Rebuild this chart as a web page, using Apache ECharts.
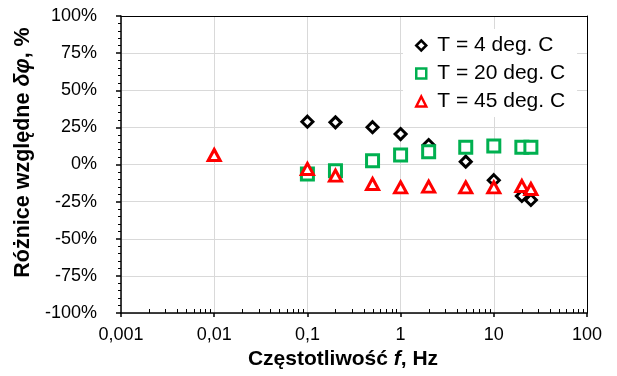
<!DOCTYPE html>
<html>
<head>
<meta charset="UTF-8">
<title>Różnice względne</title>
<script src="https://cdn.jsdelivr.net/npm/echarts@6/dist/echarts.min.js"></script>
<style>
html, body { margin: 0; padding: 0; background: #fff; }
#main { width: 617px; height: 376px; }
</style>
</head>
<body>
<div id="main"></div>
<script>
// dane (f w Hz, różnice w %)
var freq = [0.1, 0.2, 0.5, 1, 2, 5, 10, 20, 25];
var t4 = [28.8, 28.4, 25.1, 20.5, 13.1, 1.9, -10.6, -21.2, -23.9];
var t20 = [-6.4, -4.2, 2.6, 6.4, 8.6, 11.6, 12.5, 11.6, 11.6];
var freq45 = [0.01, 0.1, 0.2, 0.5, 1, 2, 5, 10, 20, 25];
var t45 = [6.4, -3.0, -7.5, -13.1, -15.4, -14.9, -15.4, -15.4, -14.5, -16.5];
var seriesNames = ['T = 4 deg. C', 'T = 20 deg. C', 'T = 45 deg. C'];
var xTickLabels = ['0,001', '0,01', '0,1', '1', '10', '100'];

var FONT = '"Liberation Sans", Arial, sans-serif';

function pairs(xs, ys) {
  return xs.map(function (x, i) { return [x, ys[i]]; });
}

var chart = echarts.init(document.getElementById('main'));

var option = {
  animation: false,
  backgroundColor: '#fff',
  textStyle: { fontFamily: FONT, color: '#000' },
  grid: { left: 121, right: 30, top: 16, bottom: 63 },
  legend: {
    orient: 'vertical',
    left: 403,
    top: 29,
    padding: [6, 12, 5, 12],
    itemGap: 7,
    itemWidth: 10,
    itemHeight: 10,
    backgroundColor: '#fff',
    itemStyle: { borderWidth: 2.5, opacity: 1 },
    textStyle: { fontFamily: FONT, fontSize: 21, color: '#000', padding: [0, 0, 0, 6] },
    data: seriesNames
  },
  xAxis: [{
    type: 'log',
    logBase: 10,
    min: 0.001,
    max: 100,
    splitNumber: 5,
    name: 'Częstotliwość {i|f}, Hz',
    nameLocation: 'middle',
    nameGap: 35,
    nameTextStyle: {
      fontFamily: FONT, fontSize: 21, fontWeight: 'bold', color: '#000',
      padding: [0, 22, 0, 0],
      rich: { i: { fontFamily: FONT, fontSize: 21, fontWeight: 'bold', fontStyle: 'italic', color: '#000' } }
    },
    axisLine: { onZero: false, lineStyle: { color: '#000', width: 1.5 } },
    axisTick: { length: 4, lineStyle: { color: '#000', width: 1.5 } },
    axisLabel: {
      margin: 13, fontSize: 18, color: '#000', fontFamily: FONT,
      formatter: function (v) {
        var k = Math.round(Math.log10(v)) + 3;
        return xTickLabels[k] || '';
      }
    },
    splitLine: { show: true, lineStyle: { color: '#d9d9d9', width: 1 } }
  }, {
    type: 'log', logBase: 10, min: 0.001, max: 100, position: 'top',
    axisLine: { onZero: false, lineStyle: { color: '#000', width: 1 } },
    axisTick: { show: false }, axisLabel: { show: false }, splitLine: { show: false }
  }],
  yAxis: [{
    type: 'value',
    min: -100,
    max: 100,
    interval: 25,
    name: 'Różnice względne {i|δφ}, %',
    nameLocation: 'middle',
    nameGap: 82,
    nameRotate: 90,
    nameTextStyle: {
      fontFamily: FONT, fontSize: 21.5, fontWeight: 'bold', color: '#000',
      padding: [0, 0, 0, 24],
      rich: { i: { fontFamily: FONT, fontSize: 21.5, fontWeight: 'bold', fontStyle: 'italic', color: '#000' } }
    },
    axisLine: { show: true, onZero: false, lineStyle: { color: '#000', width: 1.5 } },
    axisTick: { show: true, length: 5, lineStyle: { color: '#000', width: 1.5 } },
    minorTick: { show: true, splitNumber: 5, length: 3, lineStyle: { color: '#000', width: 1 } },
    axisLabel: {
      margin: 24, fontSize: 18, color: '#000', fontFamily: FONT,
      formatter: function (v) { return v + '%'; }
    },
    splitLine: { show: true, lineStyle: { color: '#d9d9d9', width: 1 } }
  }, {
    type: 'value', min: -100, max: 100, interval: 25, position: 'right',
    axisLine: { show: true, onZero: false, lineStyle: { color: '#000', width: 1 } },
    axisTick: { show: false }, axisLabel: { show: false }, splitLine: { show: false }
  }],
  series: [{
    name: seriesNames[0],
    type: 'scatter',
    symbol: 'diamond',
    symbolSize: 11,
    itemStyle: { color: '#fff', borderColor: '#000', borderWidth: 3, opacity: 1 },
    silent: true,
    data: pairs(freq, t4)
  }, {
    name: seriesNames[1],
    type: 'scatter',
    symbol: 'rect',
    symbolSize: 12,
    itemStyle: { color: '#fff', borderColor: '#00b050', borderWidth: 3, opacity: 1 },
    silent: true,
    data: pairs(freq, t20)
  }, {
    name: seriesNames[2],
    type: 'scatter',
    symbol: 'triangle',
    symbolSize: [12, 11],
    itemStyle: { color: '#fff', borderColor: '#ff0000', borderWidth: 3, opacity: 1 },
    silent: true,
    data: pairs(freq45, t45)
  }]
};

chart.setOption(option);

// podziałka pomocnicza osi logarytmicznej (2..9 w każdej dekadzie)
var minor = [];
var yBottom = chart.convertToPixel({ yAxisIndex: 0 }, -100);
for (var d = 0.001; d < 50; d *= 10) {
  for (var k = 2; k <= 9; k++) {
    var px = Math.round(chart.convertToPixel({ xAxisIndex: 0 }, d * k)) + 0.5;
    minor.push({
      type: 'line',
      silent: true,
      shape: { x1: px, y1: yBottom, x2: px, y2: yBottom - 4 },
      style: { stroke: '#000', lineWidth: 1 }
    });
  }
}
chart.setOption({ graphic: minor });
</script>
</body>
</html>
